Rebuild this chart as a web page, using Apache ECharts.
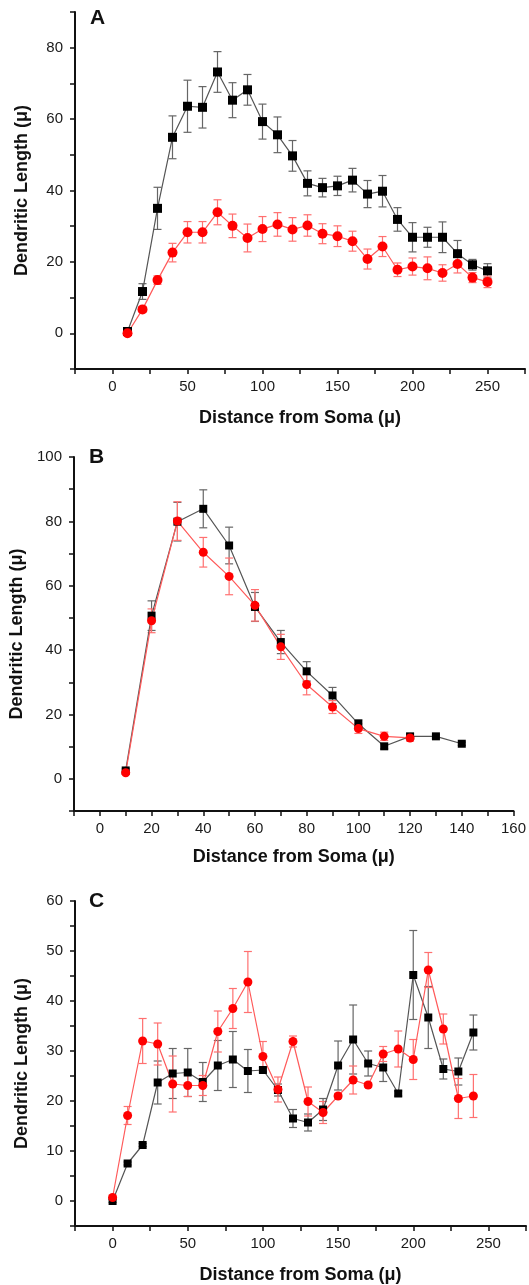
<!DOCTYPE html>
<html>
<head>
<meta charset="utf-8">
<script src="https://cdn.jsdelivr.net/npm/echarts@6/dist/echarts.min.js"></script>
<style>html,body{margin:0;padding:0;background:#fff;}#c{width:529px;height:1285px;}</style>
</head>
<body>
<div id="c"></div>
<script>
// ---- Panel A ----
const A_x = [10,20,30,40,50,60,70,80,90,100,110,120,130,140,150,160,170,180,190,200,210,220,230,240,250];
const A_black = [0.5,11.7,35,54.9,63.6,63.3,73.2,65.3,68.2,59.3,55.6,49.7,42,40.8,41.3,42.9,39,39.8,31.9,26.9,26.9,26.9,22.3,19.2,17.5];
const A_blackErr = [0.5,2.2,5.9,6,7.3,5.8,5.7,4.9,4.3,4.9,5,4.3,3.5,2.6,2.7,3.3,3.8,4.4,3.3,4.1,2.8,4.3,3.7,1.5,2];
const A_red = [0,6.7,14.9,22.6,28.3,28.3,33.9,30.1,26.7,29.2,30.5,29.1,30.2,27.9,27.2,25.8,20.8,24.3,17.8,18.7,18.2,16.9,19.4,15.6,14.4];
const A_redErr = [0.3,0.8,1.2,2.6,3,3,3.5,3.3,3.9,3.5,3.3,3.3,3,2.8,2.9,2.8,2.8,2.8,1.9,2.4,3.2,2.3,2.5,1.4,1.6];
// ---- Panel B ----
const B_xBlack = [10,20,30,40,50,60,70,80,90,100,110,120,130,140];
const B_black = [2.6,50.7,79.9,83.9,72.5,53.4,42.5,33.4,25.9,17.1,10.1,13.2,13.2,10.9];
const B_blackErr = [0.5,4.6,6,5.9,5.7,4.5,3.6,3,2.5,1.3,0.8,0.8,0.5,0.5];
const B_xRed = [10,20,30,40,50,60,70,80,90,100,110,120];
const B_red = [1.9,49.1,80.1,70.4,62.9,53.9,41,29.3,22.3,15.6,13.2,12.7];
const B_redErr = [0.5,3.7,6,4.6,5.7,4.9,3.9,3.2,2,1.5,1.3,1];
// ---- Panel C ----
const C_x = [0,10,20,30,40,50,60,70,80,90,100,110,120,130,140,150,160,170,180,190,200,210,220,230,240];
const C_black = [0,7.5,11.2,23.7,25.5,25.7,23.8,27.1,28.3,26,26.2,22.2,16.5,15.7,18.3,27.1,32.3,27.5,26.7,21.5,45.2,36.7,26.4,25.9,33.7];
const C_blackErr = [0.3,0.3,0.3,4.3,5,4.8,3.9,5,5.6,4.3,0.5,1.2,1.8,1.7,2.2,4.9,6.9,2.5,2.8,0.5,8.9,6.2,2,2.7,3.5];
const C_red = [0.7,17.1,32,31.4,23.4,23.1,23.1,33.9,38.5,43.8,28.9,22.3,31.9,19.9,17.7,21,24.2,23.2,29.4,30.4,28.3,46.2,34.4,20.5,21];
const C_redErr = [0.3,1.8,4.5,4.2,5.6,2.2,2,4.1,4,6.1,3,2.5,1.1,2.9,2.2,0.5,2.8,0.5,1.5,3.6,4,3.5,3,4,4.3];

const yTitle = 'Dendritic Length (\u03bc)';
const xTitle = 'Distance from Soma (\u03bc)';
const FONT = '"Liberation Sans", Arial, sans-serif';

const BLACK_LINE = '#555555', BLACK_ERR = '#666666';
const RED = '#ff0000', RED_LINE = '#ff5a5a', RED_ERR = '#ff7070';

function zip(xs, ys, es) { return xs.map((x, i) => es ? [x, ys[i], es[i]] : [x, ys[i]]); }

function errSeries(idx, xs, ys, es, color) {
  return {
    type: 'custom', xAxisIndex: idx, yAxisIndex: idx, z: 2,
    data: zip(xs, ys, es),
    encode: { x: 0, y: 1 },
    silent: true,
    renderItem: function (params, api) {
      const x = api.value(0), y = api.value(1), e = api.value(2);
      const t = api.coord([x, y + e]), b = api.coord([x, y - e]);
      const w = 4;
      const st = { stroke: color, lineWidth: 1.2 };
      return { type: 'group', children: [
        { type: 'line', shape: { x1: t[0], y1: t[1], x2: b[0], y2: b[1] }, style: st },
        { type: 'line', shape: { x1: t[0] - w, y1: t[1], x2: t[0] + w, y2: t[1] }, style: st },
        { type: 'line', shape: { x1: b[0] - w, y1: b[1], x2: b[0] + w, y2: b[1] }, style: st }
      ]};
    }
  };
}
function lineSeries(idx, xs, ys, color, lineColor, symbol, size) {
  return {
    type: 'line', xAxisIndex: idx, yAxisIndex: idx, z: 3,
    data: zip(xs, ys), symbol: symbol, symbolSize: size, showSymbol: true,
    itemStyle: { color: color, opacity: 1 },
    lineStyle: { color: lineColor, width: 1.2 },
    animation: false
  };
}

function xAxisDef(idx, min, max, interval, step, gap) {
  return {
    type: 'value', gridIndex: idx, min: min, max: max, interval: interval,
    axisLine: { onZero: false, lineStyle: { color: '#111', width: 2 } },
    axisTick: { length: 5, lineStyle: { color: '#111', width: 1.5 } },
    splitLine: { show: false },
    axisLabel: { color: '#1a1a1a', fontSize: 15, fontFamily: FONT, margin: 10,
      formatter: v => (v >= 0 && Math.abs(v % step) < 1e-9) ? String(v) : '' },
    name: xTitle, nameLocation: 'middle', nameGap: gap,
    nameTextStyle: { fontSize: 18, fontWeight: 'bold', fontFamily: FONT, color: '#111' }
  };
}
function yAxisDef(idx, min, max, interval, step) {
  return {
    type: 'value', gridIndex: idx, min: min, max: max, interval: interval,
    axisLine: { show: true, onZero: false, lineStyle: { color: '#111', width: 2 } },
    axisTick: { show: true, length: 5, lineStyle: { color: '#111', width: 1.5 } },
    splitLine: { show: false },
    axisLabel: { color: '#1a1a1a', fontSize: 15, fontFamily: FONT, margin: 12,
      formatter: v => (v >= 0 && Math.abs(v % step) < 1e-9) ? String(v) : '' },
    name: yTitle, nameLocation: 'middle', nameGap: 44, nameRotate: 90,
    nameTextStyle: { fontSize: 18, fontWeight: 'bold', fontFamily: FONT, color: '#111' }
  };
}

const chart = echarts.init(document.getElementById('c'), null, { renderer: 'canvas' });
chart.setOption({
  animation: false,
  backgroundColor: '#fff',
  grid: [
    { left: 75, top: 12, width: 450, height: 357 },
    { left: 74, top: 457, width: 442, height: 354 },
    { left: 75, top: 901, width: 463, height: 325 }
  ],
  xAxis: [
    xAxisDef(0, -25, 275, 25, 50, 40),
    xAxisDef(1, -10, 160, 10, 20, 37),
    xAxisDef(2, -25, 275, 25, 50, 40)
  ],
  yAxis: [
    yAxisDef(0, -10, 90, 10, 20),
    yAxisDef(1, -10, 100, 10, 20),
    yAxisDef(2, -5, 60, 5, 10)
  ],
  graphic: [
    { type: 'text', left: 90, top: 8, style: { text: 'A', font: 'bold 21px ' + FONT, fill: '#111' } },
    { type: 'text', left: 89, top: 447, style: { text: 'B', font: 'bold 21px ' + FONT, fill: '#111' } },
    { type: 'text', left: 89, top: 891, style: { text: 'C', font: 'bold 21px ' + FONT, fill: '#111' } }
  ],
  series: [
    errSeries(0, A_x, A_black, A_blackErr, BLACK_ERR),
    lineSeries(0, A_x, A_black, '#000', BLACK_LINE, 'rect', 9),
    errSeries(0, A_x, A_red, A_redErr, RED_ERR),
    lineSeries(0, A_x, A_red, RED, RED_LINE, 'circle', 10),

    errSeries(1, B_xBlack, B_black, B_blackErr, BLACK_ERR),
    lineSeries(1, B_xBlack, B_black, '#000', BLACK_LINE, 'rect', 8),
    errSeries(1, B_xRed, B_red, B_redErr, RED_ERR),
    lineSeries(1, B_xRed, B_red, RED, RED_LINE, 'circle', 9),

    errSeries(2, C_x, C_black, C_blackErr, BLACK_ERR),
    lineSeries(2, C_x, C_black, '#000', BLACK_LINE, 'rect', 8),
    errSeries(2, C_x, C_red, C_redErr, RED_ERR),
    lineSeries(2, C_x, C_red, RED, RED_LINE, 'circle', 9)
  ]
});
</script>
</body>
</html>
